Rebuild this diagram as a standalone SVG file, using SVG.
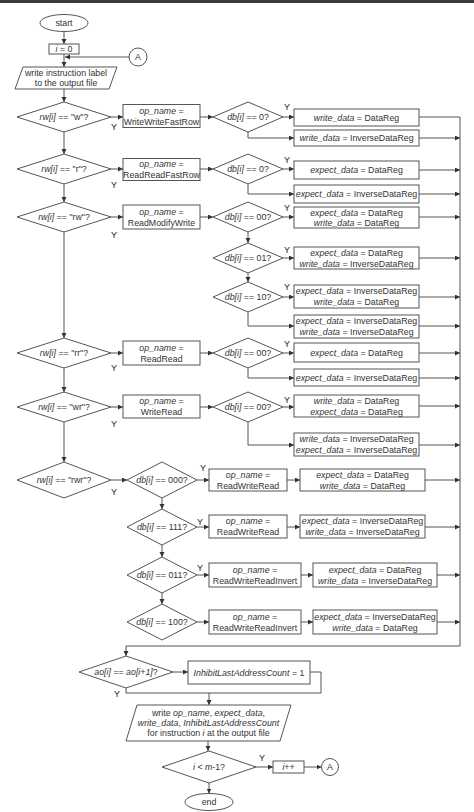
<svg xmlns="http://www.w3.org/2000/svg" width="474" height="812" viewBox="0 0 474 812">
<style>
.ln{stroke:#555;stroke-width:1;fill:none}
.sh{fill:#fff;stroke:#555;stroke-width:1}
text{font-family:"Liberation Sans",Arial,sans-serif;font-size:8.8px;fill:#333;text-anchor:middle}
.it{font-style:italic}
.y{font-size:9px;fill:#222}
</style>
<defs>
<marker id="ah" markerUnits="userSpaceOnUse" markerWidth="6" markerHeight="6" refX="5" refY="2.5" orient="auto">
<path d="M0,0 L5,2.5 L0,5 z" fill="#333"/>
</marker>
</defs>
<rect x="0" y="0" width="474" height="812" fill="#fff"/>
<rect x="0" y="0" width="474" height="3" fill="#3a3a3a"/>

<g id="connectors">
<path class="ln" d="M64,31.5 V44" marker-end="url(#ah)"/>
<path class="ln" d="M64,54 V67" marker-end="url(#ah)"/>
<path class="ln" d="M129,57 H65" marker-end="url(#ah)"/>
<path class="ln" d="M64,89 V102" marker-end="url(#ah)"/>
<path class="ln" d="M64,132 V154" marker-end="url(#ah)"/>
<path class="ln" d="M64,184 V202" marker-end="url(#ah)"/>
<path class="ln" d="M64,232 V338" marker-end="url(#ah)"/>
<path class="ln" d="M64,368 V392" marker-end="url(#ah)"/>
<path class="ln" d="M64,422 V462" marker-end="url(#ah)"/>
<path class="ln" d="M111,117 H123" marker-end="url(#ah)"/>
<path class="ln" d="M111,169 H123" marker-end="url(#ah)"/>
<path class="ln" d="M111,217 H123" marker-end="url(#ah)"/>
<path class="ln" d="M111,353 H123" marker-end="url(#ah)"/>
<path class="ln" d="M111,407 H123" marker-end="url(#ah)"/>
<path class="ln" d="M200,117 H213" marker-end="url(#ah)"/>
<path class="ln" d="M200,169 H213" marker-end="url(#ah)"/>
<path class="ln" d="M200,217 H213" marker-end="url(#ah)"/>
<path class="ln" d="M200,353 H213" marker-end="url(#ah)"/>
<path class="ln" d="M200,407 H213" marker-end="url(#ah)"/>
<path class="ln" d="M283,117 H294" marker-end="url(#ah)"/>
<path class="ln" d="M283,169 H294" marker-end="url(#ah)"/>
<path class="ln" d="M283,217 H294" marker-end="url(#ah)"/>
<path class="ln" d="M283,258 H294" marker-end="url(#ah)"/>
<path class="ln" d="M283,297 H294" marker-end="url(#ah)"/>
<path class="ln" d="M283,353 H294" marker-end="url(#ah)"/>
<path class="ln" d="M283,407 H294" marker-end="url(#ah)"/>
<path class="ln" d="M248,132 V138 H294" marker-end="url(#ah)"/>
<path class="ln" d="M248,184 V194 H294" marker-end="url(#ah)"/>
<path class="ln" d="M248,232 V243" marker-end="url(#ah)"/>
<path class="ln" d="M248,273 V282" marker-end="url(#ah)"/>
<path class="ln" d="M248,312 V326 H294" marker-end="url(#ah)"/>
<path class="ln" d="M248,368 V378 H294" marker-end="url(#ah)"/>
<path class="ln" d="M248,422 V445 H294" marker-end="url(#ah)"/>
<path class="ln" d="M419,117 H460 V646 H126 V656" marker-end="url(#ah)"/>
<path class="ln" d="M419,138 H460" marker-end="url(#ah)"/>
<path class="ln" d="M419,170 H460" marker-end="url(#ah)"/>
<path class="ln" d="M419,194 H460" marker-end="url(#ah)"/>
<path class="ln" d="M419,217 H460" marker-end="url(#ah)"/>
<path class="ln" d="M419,258 H460" marker-end="url(#ah)"/>
<path class="ln" d="M419,297 H460" marker-end="url(#ah)"/>
<path class="ln" d="M419,326 H460" marker-end="url(#ah)"/>
<path class="ln" d="M419,353 H460" marker-end="url(#ah)"/>
<path class="ln" d="M419,378 H460" marker-end="url(#ah)"/>
<path class="ln" d="M419,406 H460" marker-end="url(#ah)"/>
<path class="ln" d="M419,445 H460" marker-end="url(#ah)"/>
<path class="ln" d="M111,480 H127" marker-end="url(#ah)"/>
<path class="ln" d="M197,480 H209" marker-end="url(#ah)"/>
<path class="ln" d="M287,480 H300" marker-end="url(#ah)"/>
<path class="ln" d="M425,480 H460" marker-end="url(#ah)"/>
<path class="ln" d="M162,498 V509" marker-end="url(#ah)"/>
<path class="ln" d="M197,527 H209" marker-end="url(#ah)"/>
<path class="ln" d="M287,527 H300" marker-end="url(#ah)"/>
<path class="ln" d="M425,527 H460" marker-end="url(#ah)"/>
<path class="ln" d="M162,545 V557" marker-end="url(#ah)"/>
<path class="ln" d="M197,575 H209" marker-end="url(#ah)"/>
<path class="ln" d="M301,575 H313" marker-end="url(#ah)"/>
<path class="ln" d="M437,575 H460" marker-end="url(#ah)"/>
<path class="ln" d="M162,593 V604" marker-end="url(#ah)"/>
<path class="ln" d="M197,622 H209" marker-end="url(#ah)"/>
<path class="ln" d="M301,622 H313" marker-end="url(#ah)"/>
<path class="ln" d="M437,622 H460" marker-end="url(#ah)"/>
<path class="ln" d="M173,672 H188" marker-end="url(#ah)"/>
<path class="ln" d="M126,688 V693 H321 V672 H310"/>
<path class="ln" d="M209,693 V705" marker-end="url(#ah)"/>
<path class="ln" d="M208,741 V751" marker-end="url(#ah)"/>
<path class="ln" d="M256,767 H273" marker-end="url(#ah)"/>
<path class="ln" d="M304,767 H321.5" marker-end="url(#ah)"/>
<path class="ln" d="M209,783 V793.5" marker-end="url(#ah)"/>
</g>

<g id="labels">
<text class="y" x="114" y="130">Y</text>
<text class="y" x="287" y="110">Y</text>
<text class="y" x="114" y="188">Y</text>
<text class="y" x="287" y="163">Y</text>
<text class="y" x="114" y="238">Y</text>
<text class="y" x="287" y="211">Y</text>
<text class="y" x="287" y="253">Y</text>
<text class="y" x="287" y="290">Y</text>
<text class="y" x="114" y="371">Y</text>
<text class="y" x="287" y="347">Y</text>
<text class="y" x="114" y="427">Y</text>
<text class="y" x="287" y="403">Y</text>
<text class="y" x="114" y="495">Y</text>
<text class="y" x="203" y="471">Y</text>
<text class="y" x="200" y="525">Y</text>
<text class="y" x="200" y="571">Y</text>
<text class="y" x="117" y="697">Y</text>
<text class="y" x="262" y="761">Y</text>
</g>

<g id="start"><ellipse class="sh" cx="64" cy="23" rx="24" ry="8.5"/><text x="64" y="26">start</text></g>
<g id="init"><rect class="sh" x="49" y="44" width="30" height="10"/><text x="64" y="52.2"><tspan class="it">i</tspan> = 0</text></g>
<g id="connectorA1"><circle class="sh" cx="138" cy="57" r="9"/><text x="138" y="60.3">A</text></g>
<g id="writeLabel"><polygon class="sh" points="23,67 117,67 109,89 15,89"/><text x="66" y="75.8">write instruction label</text><text x="66" y="86.1">to the output file</text></g>

<g id="d_w"><polygon class="sh" points="64,102 111,117 64,132 17,117"/><text x="64" y="120.1"><tspan class="it">rw[i]</tspan> == "w"?</text></g>
<g id="op_w"><rect class="sh" x="123" y="104.5" width="77" height="23"/><text x="161.5" y="113.8"><tspan class="it">op_name</tspan> =</text><text x="161.5" y="124.8">WriteWriteFastRow</text></g>
<g id="db_w"><polygon class="sh" points="248,102 283,117 248,132 213,117"/><text x="248" y="120.1"><tspan class="it">db[i]</tspan> == 0?</text></g>
<g id="dw_1"><rect class="sh" x="294" y="109" width="125" height="17"/><text x="356.5" y="120.6"><tspan class="it">write_data</tspan> = DataReg</text></g>
<g id="dw_2"><rect class="sh" x="294" y="130" width="125" height="16"/><text x="356.5" y="141.1"><tspan class="it">write_data</tspan> = InverseDataReg</text></g>

<g id="d_r"><polygon class="sh" points="64,154 111,169 64,184 17,169"/><text x="64" y="172.1"><tspan class="it">rw[i]</tspan> == "r"?</text></g>
<g id="op_r"><rect class="sh" x="123" y="158.5" width="77" height="22"/><text x="161.5" y="167.2"><tspan class="it">op_name</tspan> =</text><text x="161.5" y="178">ReadReadFastRow</text></g>
<g id="db_r"><polygon class="sh" points="248,154 283,169 248,184 213,169"/><text x="248" y="172.1"><tspan class="it">db[i]</tspan> == 0?</text></g>
<g id="dr_1"><rect class="sh" x="294" y="161" width="125" height="18"/><text x="356.5" y="173.1"><tspan class="it">expect_data</tspan> = DataReg</text></g>
<g id="dr_2"><rect class="sh" x="294" y="185" width="125" height="18"/><text x="356.5" y="197.1"><tspan class="it">expect_data</tspan> = InverseDataReg</text></g>

<g id="d_rw"><polygon class="sh" points="64,202 111,217 64,232 17,217"/><text x="64" y="220.1"><tspan class="it">rw[i]</tspan> == "rw"?</text></g>
<g id="op_rw"><rect class="sh" x="123" y="205" width="77" height="24"/><text x="161.5" y="214.5"><tspan class="it">op_name</tspan> =</text><text x="161.5" y="225.5">ReadModifyWrite</text></g>
<g id="db_rw00"><polygon class="sh" points="248,202 283,217 248,232 213,217"/><text x="248" y="220.1"><tspan class="it">db[i]</tspan> == 00?</text></g>
<g id="drw_1"><rect class="sh" x="294" y="207" width="125" height="21"/><text x="356.5" y="215.6"><tspan class="it">expect_data</tspan> = DataReg</text><text x="356.5" y="226.4"><tspan class="it">write_data</tspan> = DataReg</text></g>
<g id="db_rw01"><polygon class="sh" points="248,243 283,258 248,273 213,258"/><text x="248" y="261.1"><tspan class="it">db[i]</tspan> == 01?</text></g>
<g id="drw_2"><rect class="sh" x="294" y="247" width="125" height="22"/><text x="356.5" y="255.8"><tspan class="it">expect_data</tspan> = DataReg</text><text x="356.5" y="266.6"><tspan class="it">write_data</tspan> = InverseDataReg</text></g>
<g id="db_rw10"><polygon class="sh" points="248,282 283,297 248,312 213,297"/><text x="248" y="300.1"><tspan class="it">db[i]</tspan> == 10?</text></g>
<g id="drw_3"><rect class="sh" x="294" y="285" width="125" height="23"/><text x="356.5" y="294.3"><tspan class="it">expect_data</tspan> = InverseDataReg</text><text x="356.5" y="305.1"><tspan class="it">write_data</tspan> = DataReg</text></g>
<g id="drw_4"><rect class="sh" x="294" y="315" width="125" height="23"/><text x="356.5" y="324.3"><tspan class="it">expect_data</tspan> = InverseDataReg</text><text x="356.5" y="335.1"><tspan class="it">write_data</tspan> = InverseDataReg</text></g>

<g id="d_rr"><polygon class="sh" points="64,338 111,353 64,368 17,353"/><text x="64" y="356.1"><tspan class="it">rw[i]</tspan> == "rr"?</text></g>
<g id="op_rr"><rect class="sh" x="123" y="341" width="77" height="24"/><text x="161.5" y="350.5"><tspan class="it">op_name</tspan> =</text><text x="161.5" y="361.5">ReadRead</text></g>
<g id="db_rr"><polygon class="sh" points="248,338 283,353 248,368 213,353"/><text x="248" y="356.1"><tspan class="it">db[i]</tspan> == 00?</text></g>
<g id="drr_1"><rect class="sh" x="294" y="343" width="125" height="19"/><text x="356.5" y="355.6"><tspan class="it">expect_data</tspan> = DataReg</text></g>
<g id="drr_2"><rect class="sh" x="294" y="369" width="125" height="17"/><text x="356.5" y="380.6"><tspan class="it">expect_data</tspan> = InverseDataReg</text></g>

<g id="d_wr"><polygon class="sh" points="64,392 111,407 64,422 17,407"/><text x="64" y="410.1"><tspan class="it">rw[i]</tspan> == "wr"?</text></g>
<g id="op_wr"><rect class="sh" x="123" y="395" width="77" height="23"/><text x="161.5" y="404"><tspan class="it">op_name</tspan> =</text><text x="161.5" y="415">WriteRead</text></g>
<g id="db_wr"><polygon class="sh" points="248,392 283,407 248,422 213,407"/><text x="248" y="410.1"><tspan class="it">db[i]</tspan> == 00?</text></g>
<g id="dwr_1"><rect class="sh" x="294" y="395" width="125" height="22"/><text x="356.5" y="404"><tspan class="it">write_data</tspan> = DataReg</text><text x="356.5" y="414.8"><tspan class="it">expect_data</tspan> = DataReg</text></g>
<g id="dwr_2"><rect class="sh" x="294" y="433" width="125" height="23"/><text x="356.5" y="442.3"><tspan class="it">write_data</tspan> = InverseDataReg</text><text x="356.5" y="453.1"><tspan class="it">expect_data</tspan> = InverseDataReg</text></g>

<g id="d_rwr"><polygon class="sh" points="64,462 111,480 64,498 17,480"/><text x="64" y="483.1"><tspan class="it">rw[i]</tspan> == "rwr"?</text></g>
<g id="db_000"><polygon class="sh" points="162,462 197,480 162,498 127,480"/><text x="162" y="483.1"><tspan class="it">db[i]</tspan> == 000?</text></g>
<g id="op_000"><rect class="sh" x="209" y="469" width="78" height="22"/><text x="248" y="477.8"><tspan class="it">op_name</tspan> =</text><text x="248" y="488.6">ReadWriteRead</text></g>
<g id="dd_000"><rect class="sh" x="300" y="469" width="125" height="22"/><text x="362.5" y="477.8"><tspan class="it">expect_data</tspan> = DataReg</text><text x="362.5" y="488.6"><tspan class="it">write_data</tspan> = DataReg</text></g>
<g id="db_111"><polygon class="sh" points="162,509 197,527 162,545 127,527"/><text x="162" y="530.1"><tspan class="it">db[i]</tspan> == 111?</text></g>
<g id="op_111"><rect class="sh" x="209" y="515" width="78" height="23"/><text x="248" y="524.3"><tspan class="it">op_name</tspan> =</text><text x="248" y="535.1">ReadWriteRead</text></g>
<g id="dd_111"><rect class="sh" x="300" y="515" width="125" height="23"/><text x="362.5" y="524.3"><tspan class="it">expect_data</tspan> = InverseDataReg</text><text x="362.5" y="535.1"><tspan class="it">write_data</tspan> = InverseDataReg</text></g>
<g id="db_011"><polygon class="sh" points="162,557 197,575 162,593 127,575"/><text x="162" y="578.1"><tspan class="it">db[i]</tspan> == 011?</text></g>
<g id="op_011"><rect class="sh" x="209" y="563" width="92" height="24"/><text x="255" y="572.5"><tspan class="it">op_name</tspan> =</text><text x="255" y="583.5">ReadWriteReadInvert</text></g>
<g id="dd_011"><rect class="sh" x="313" y="563" width="124" height="24"/><text x="375" y="572.5"><tspan class="it">expect_data</tspan> = DataReg</text><text x="375" y="583.5"><tspan class="it">write_data</tspan> = InverseDataReg</text></g>
<g id="db_100"><polygon class="sh" points="162,604 197,622 162,640 127,622"/><text x="162" y="625.1"><tspan class="it">db[i]</tspan> == 100?</text></g>
<g id="op_100"><rect class="sh" x="209" y="610" width="92" height="24"/><text x="255" y="619.5"><tspan class="it">op_name</tspan> =</text><text x="255" y="630.5">ReadWriteReadInvert</text></g>
<g id="dd_100"><rect class="sh" x="313" y="610" width="124" height="24"/><text x="375" y="619.5"><tspan class="it">expect_data</tspan> = InverseDataReg</text><text x="375" y="630.5"><tspan class="it">write_data</tspan> = DataReg</text></g>

<g id="d_ao"><polygon class="sh" points="126,656 173,672 126,688 79,672"/><text x="126" y="675.1"><tspan class="it">ao[i]</tspan> == <tspan class="it">ao[i+1]</tspan>?</text></g>
<g id="inhibit"><rect class="sh" x="188" y="661" width="122" height="23"/><text x="249" y="675.6"><tspan class="it">InhibitLastAddressCount</tspan> = 1</text></g>
<g id="writeOut"><polygon class="sh" points="137,705 291,705 280,741 126,741"/><text x="208.5" y="716.1">write <tspan class="it">op_name</tspan>, <tspan class="it">expect_data</tspan>,</text><text x="208.5" y="726.1"><tspan class="it">write_data</tspan>, <tspan class="it">InhibitLastAddressCount</tspan></text><text x="208.5" y="736.1">for instruction <tspan class="it">i</tspan> at the output file</text></g>
<g id="d_loop"><polygon class="sh" points="209,751 256,767 209,783 162,767"/><text x="209" y="770.1"><tspan class="it">i</tspan> &lt; <tspan class="it">m</tspan>-1?</text></g>
<g id="inc"><rect class="sh" x="273" y="761" width="31" height="12"/><text x="288.5" y="770.1"><tspan class="it">i</tspan>++</text></g>
<g id="connectorA2"><circle class="sh" cx="330" cy="767" r="8.5"/><text x="330" y="770.3">A</text></g>
<g id="end"><ellipse class="sh" cx="209" cy="802" rx="24" ry="8.5"/><text x="209" y="805.1">end</text></g>
</svg>
